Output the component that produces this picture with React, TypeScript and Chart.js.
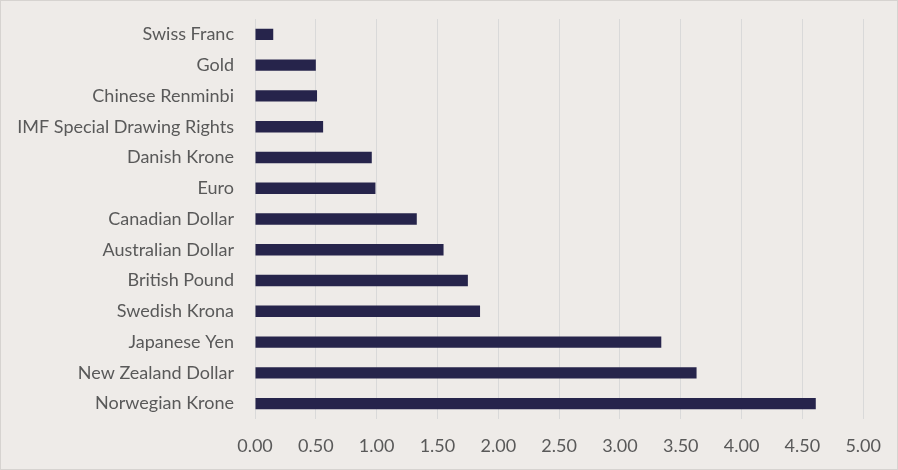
import React, { useEffect, useRef } from "react";
import Chart from "chart.js/auto";

const categories = [
  "Swiss Franc",
  "Gold",
  "Chinese Renminbi",
  "IMF Special Drawing Rights",
  "Danish Krone",
  "Euro",
  "Canadian Dollar",
  "Australian Dollar",
  "British Pound",
  "Swedish Krona",
  "Japanese Yen",
  "New Zealand Dollar",
  "Norwegian Krone",
];
const values = [0.15, 0.5, 0.51, 0.56, 0.96, 0.99, 1.33, 1.55, 1.75, 1.85, 3.34, 3.63, 4.61];

const FONT = "Lato, 'Open Sans', sans-serif";

const App = () => {
  const canvasRef = useRef<HTMLCanvasElement | null>(null);
  const chartRef = useRef<Chart | null>(null);

  useEffect(() => {
    document.body.style.margin = "0";
    if (!canvasRef.current) return;
    if (chartRef.current) chartRef.current.destroy();

    chartRef.current = new Chart(canvasRef.current, {
      type: "bar",
      data: {
        labels: categories,
        datasets: [
          {
            data: values,
            backgroundColor: "#26244b",
            barPercentage: 0.37,
            categoryPercentage: 1,
          },
        ],
      },
      options: {
        indexAxis: "y",
        animation: false,
        responsive: true,
        maintainAspectRatio: false,
        layout: { padding: { top: 18, right: 21, bottom: 0, left: 0 } },
        plugins: { legend: { display: false }, tooltip: { enabled: false } },
        scales: {
          x: {
            min: 0,
            max: 5,
            ticks: {
              stepSize: 0.5,
              padding: 16,
              color: "#595959",
              font: { family: FONT, size: 18 },
              callback: (v) => Number(v).toFixed(2),
            },
            grid: { color: "#d9d9d9", drawTicks: false },
            border: { display: false },
            afterFit: (s) => {
              s.height = 50;
            },
          },
          y: {
            ticks: {
              padding: 13,
              color: "#595959",
              font: { family: FONT, size: 18 },
            },
            grid: { display: false },
            border: { display: false },
            afterFit: (s) => {
              s.width = 254;
              s.paddingTop = 0;
              s.paddingBottom = 0;
            },
          },
        },
      },
    });

    return () => {
      chartRef.current?.destroy();
      chartRef.current = null;
    };
  }, []);

  return (
    <div
      style={{
        width: 898,
        height: 470,
        boxSizing: "border-box",
        border: "1px solid #d6d3d0",
        background: "#eeebe8",
        position: "relative",
      }}
    >
      <canvas ref={canvasRef} />
    </div>
  );
};

export default App;
